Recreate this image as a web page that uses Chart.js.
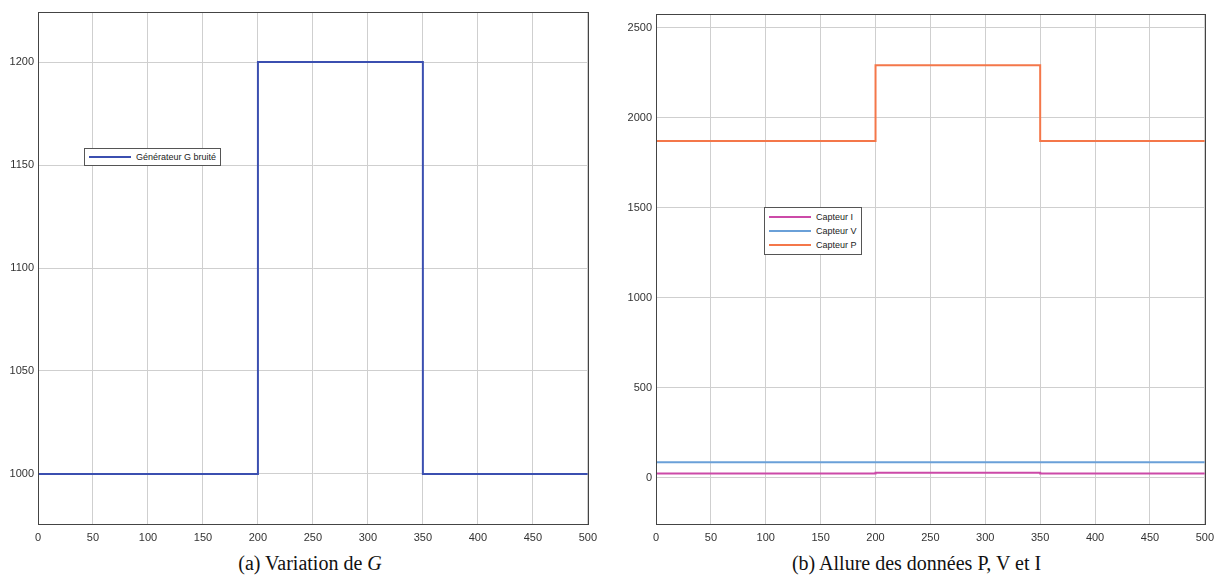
<!DOCTYPE html>
<html>
<head>
<meta charset="utf-8">
<script src="https://cdn.jsdelivr.net/npm/chart.js@4.4.0/dist/chart.umd.min.js"></script>
<style>
  body { margin: 0; background: #fff; width: 1214px; height: 586px; position: relative; overflow: hidden; }
  .box { position: absolute; }
  .legend { position: absolute; background: #fff; border: 1px solid #555; font-family: "Liberation Sans", Arial, sans-serif; font-size: 9px; color: #222; padding: 1px 4px; }
  .legend .row { display: flex; align-items: center; height: 14px; white-space: nowrap; }
  .legend .swatch { display: inline-block; width: 42px; height: 0; border-top: 2px solid; margin-right: 5px; }
  .caption { position: absolute; font-family: "Liberation Serif", "DejaVu Serif", serif; font-size: 20px; color: #111; text-align: center; }
</style>
</head>
<body>
<div class="box" style="left:1px;top:0;width:603px;height:546px;"><canvas id="chartG"></canvas></div>
<div class="box" style="left:619px;top:0;width:602px;height:546px;"><canvas id="chartPVI"></canvas></div>

<div class="legend" style="left:84px;top:148px;">
  <div class="row"><span class="swatch" style="border-color:#3b4fb0"></span>Générateur G bruité</div>
</div>
<div class="legend" style="left:764px;top:207px;padding:2px 4px;">
  <div class="row"><span class="swatch" style="border-color:#cc4aa8"></span>Capteur I</div>
  <div class="row"><span class="swatch" style="border-color:#6aa0d8"></span>Capteur V</div>
  <div class="row"><span class="swatch" style="border-color:#f4774a"></span>Capteur P</div>
</div>

<div class="caption" style="left:0;width:620px;top:552px;">(a) Variation de <i>G</i></div>
<div class="caption" style="left:619px;width:595px;top:552px;">(b) Allure des données P, V et I</div>

<script>
// time axis (shared)
const timeX = [0, 200, 200, 350, 350, 500];
const xTicks = [0, 50, 100, 150, 200, 250, 300, 350, 400, 450, 500];

// (a) irradiance G
const gValues = [1000, 1000, 1200, 1200, 1000, 1000];
const gTicks = [1000, 1050, 1100, 1150, 1200];

// (b) sensors
const iValues = [24, 24, 28, 28, 24, 24];
const vValues = [87, 87, 87, 87, 87, 87];
const pValues = [1870, 1870, 2290, 2290, 1870, 1870];
const pviTicks = [0, 500, 1000, 1500, 2000, 2500];

function toPoints(ys) {
  return timeX.map((x, i) => ({ x: x, y: ys[i] }));
}

const tickFont = { family: "'Liberation Sans', Arial, sans-serif", size: 11 };

// draws the closed box round the plot
const frame = {
  id: 'frame',
  afterDraw(chart) {
    const a = chart.chartArea, ctx = chart.ctx;
    ctx.save();
    ctx.strokeStyle = '#444';
    ctx.lineWidth = 1;
    ctx.strokeRect(Math.round(a.left) + 0.5, Math.round(a.top) + 0.5, Math.round(a.right - a.left), Math.round(a.bottom - a.top));
    ctx.restore();
  }
};

function makeChart(id, datasets, yMin, yMax, yTicks, padTop, padRight) {
  return new Chart(document.getElementById(id), {
    type: 'line',
    data: { datasets },
    options: {
      responsive: true,
      maintainAspectRatio: false,
      animation: false,
      layout: { padding: { top: padTop, right: padRight, bottom: 0, left: 0 } },
      plugins: { legend: { display: false }, tooltip: { enabled: false } },
      elements: { point: { radius: 0 } },
      scales: {
        x: {
          type: 'linear', min: 0, max: 500,
          afterBuildTicks: s => { s.ticks = xTicks.map(v => ({ value: v })); },
          afterFit: s => { s.height = 22; },
          grid: { color: '#cfcfcf', drawTicks: false },
          border: { color: '#444' },
          ticks: { font: tickFont, color: '#333', padding: 7, maxRotation: 0, callback: v => String(v) }
        },
        y: {
          type: 'linear', min: yMin, max: yMax,
          afterBuildTicks: s => { s.ticks = yTicks.map(v => ({ value: v })); },
          afterFit: s => { s.width = 37; },
          grid: { color: '#cfcfcf', drawTicks: false },
          border: { color: '#444' },
          ticks: { font: tickFont, color: '#333', padding: 4, callback: v => String(v) }
        }
      }
    },
    plugins: [frame]
  });
}

makeChart('chartG', [
  { label: 'Générateur G bruité', data: toPoints(gValues), borderColor: '#3b4fb0', borderWidth: 2, fill: false }
], 975.7, 1224.3, gTicks, 12, 6);

makeChart('chartPVI', [
  { label: 'Capteur I', data: toPoints(iValues), borderColor: '#cc4aa8', borderWidth: 2, fill: false },
  { label: 'Capteur V', data: toPoints(vValues), borderColor: '#6aa0d8', borderWidth: 2, fill: false },
  { label: 'Capteur P', data: toPoints(pValues), borderColor: '#f4774a', borderWidth: 2, fill: false }
], -256, 2575, pviTicks, 14, 3);
</script>
</body>
</html>
